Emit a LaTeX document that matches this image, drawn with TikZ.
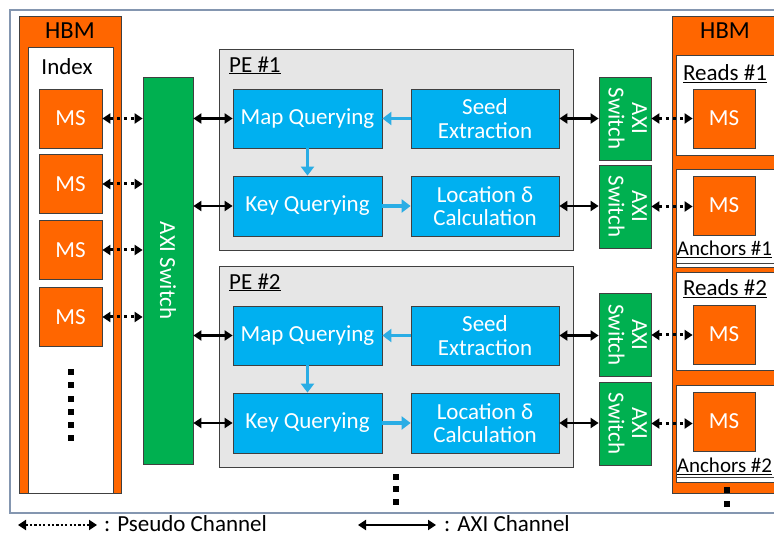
\documentclass[tikz,border=0pt]{standalone}
\usepackage{fontspec}
\setmainfont{Carlito}
\usetikzlibrary{arrows.meta}
\definecolor{hbmorange}{HTML}{FF6600}
\definecolor{axigreen}{HTML}{00B050}
\definecolor{peblue}{HTML}{00B0F0}
\definecolor{flowblue}{HTML}{2AADE5}
\definecolor{pegray}{HTML}{E6E6E6}
\definecolor{framecol}{HTML}{8496B0}
\definecolor{edgecol}{HTML}{404040}

\begin{document}
\begin{tikzpicture}[x=1pt,y=-1pt,
  font=\fontsize{23}{23.5}\selectfont,
  blk/.style={draw=edgecol, line width=0.8pt, inner sep=0pt, align=center},
  msbox/.style={blk, fill=hbmorange, text=white, minimum height=59pt},
  pebox/.style={blk, fill=pegray, minimum width=354pt, minimum height=201pt},
  stage/.style={blk, fill=peblue, text=white, minimum width=148pt, minimum height=59pt},
  axibox/.style={blk, fill=axigreen, text=white},
  memwin/.style={blk, fill=white},
  lbl/.style={inner sep=0pt, text=black},
  anchorlbl/.style={lbl, font=\fontsize{21}{22}\selectfont},
  axich/.style={line width=2.5pt, {Triangle[length=8pt,width=10pt]}-{Triangle[length=8pt,width=10pt]}},
  pseudoch/.style={line width=3pt, dash pattern=on 3.5pt off 3.5pt,
    {Triangle[length=8pt,width=10pt]}-{Triangle[length=8pt,width=10pt]}},
  flow/.style={draw=flowblue, line width=3.8pt, -{Triangle[length=9pt,width=13pt]}, color=flowblue},
  dot/.style={fill=black}
]
\clip (0,0) rectangle (774,537);

% outer frame
\draw[framecol, line width=1.4pt] (10,10) rectangle (800,513);

% ---------- left HBM (index) ----------
\node[blk, fill=hbmorange, minimum width=102pt, minimum height=477pt] (hbmL) at (70,254.5) {};
\node[memwin, minimum width=85pt, minimum height=446pt] (idx) at (70.5,270) {};
\node[lbl, font=\fontsize{24.5}{25}\selectfont] (hbmLt) at (70,31) {HBM};
\node[lbl] (idxt) at (67,67) {Index};
\foreach \i/\y in {1/118.5,2/184,3/250,4/317}
  \node[msbox, minimum width=63pt] (msL\i) at (70.5,\y) {MS};
\foreach \y in {372,385,399,412,425,438}
  \fill[dot] (67.5,\y-3) rectangle ++(6,6);

% ---------- central AXI switch ----------
\node[axibox, minimum width=50pt, minimum height=387pt] (axiL) at (168,270.5)
  {\rotatebox{-90}{AXI Switch}};

% ---------- processing elements ----------
\foreach \k/\dy in {1/0,2/217}{
  \node[pebox] (pe\k) at (396,149.5+\dy) {};
  \node[lbl, anchor=west] (pe\k t) at (229,65.5+\dy) {\underline{PE \#\k}};
  \node[stage, minimum width=149pt] (map\k) at (307.5,118.5+\dy) {Map Querying};
  \node[stage] (seed\k) at (485,118.5+\dy) {Seed\\Extraction};
  \node[stage, minimum width=149pt, minimum height=60pt] (key\k) at (307.5,206+\dy) {Key Querying};
  \node[stage, minimum height=60pt] (loc\k) at (485,206+\dy) {Location δ\\Calculation};
  \draw[flow] (seed\k.west) -- (seed\k.west -| map\k.east);
  \draw[flow] (map\k.south) -- (key\k.north);
  \draw[flow] (key\k.east) -- (key\k.east -| loc\k.west);
}
\foreach \y in {477,489,502}
  \fill[dot] (393,\y-3) rectangle ++(6,6);

% ---------- per-PE AXI switches ----------
\foreach \j/\y in {1/118.5,2/206.5,3/335,4/423.5}
  \node[axibox, minimum width=52pt, minimum height=83pt] (sw\j) at (625,\y)
    {\rotatebox{-90}{\begin{tabular}{@{}c@{}}AXI\\Switch\end{tabular}}};

% ---------- right HBM (reads / anchors) ----------
\node[blk, fill=hbmorange, minimum width=118pt, minimum height=477pt] (hbmR) at (731,254.5) {};
\node[memwin, minimum width=114pt, minimum height=100pt] (rd1) at (733,105) {};
\node[memwin, minimum width=114pt, minimum height=98pt] (an1) at (733,218) {};
\node[memwin, minimum width=114pt, minimum height=98pt] (rd2) at (733,321) {};
\node[memwin, minimum width=114pt, minimum height=97pt] (an2) at (733,433.5) {};
\draw[edgecol, line width=0.8pt] (an1.west |- 0,263) -- (an1.east |- 0,263);
\draw[edgecol, line width=0.8pt] (an2.west |- 0,477) -- (an2.east |- 0,477);
\node[lbl, font=\fontsize{24.5}{25}\selectfont] (hbmRt) at (725,31) {HBM};
\node[lbl] (rd1t) at (725,74) {\underline{Reads \#1}};
\node[anchorlbl] (an1t) at (724.5,249) {\underline{Anchors \#1}};
\node[lbl] (rd2t) at (725,289) {\underline{Reads \#2}};
\node[anchorlbl] (an2t) at (724.5,466) {\underline{Anchors \#2}};
\foreach \j/\y in {1/118.5,2/205.5,3/334.5,4/421.5}
  \node[msbox, minimum width=62pt] (msR\j) at (724,\y) {MS};
\foreach \y in {490,504}
  \fill[dot] (724,\y-3) rectangle ++(6,6);

% ---------- channels ----------
\foreach \i in {1,...,4}
  \draw[pseudoch] (msL\i.east) -- (msL\i.east -| axiL.west);
\foreach \k in {1,2}{
  \draw[axich] (axiL.east |- map\k.west) -- (map\k.west);
  \draw[axich] (axiL.east |- key\k.west) -- (key\k.west);
}
\draw[axich] (seed1.east) -- (seed1.east -| sw1.west);
\draw[axich] (loc1.east) -- (loc1.east -| sw2.west);
\draw[axich] (seed2.east) -- (seed2.east -| sw3.west);
\draw[axich] (loc2.east) -- (loc2.east -| sw4.west);
\foreach \j in {1,...,4}
  \draw[pseudoch] (sw\j.east) -- (sw\j.east -| msR\j.west);

% ---------- legend ----------
\coordinate (lgPa) at (18,525);
\coordinate (lgPb) at (97,525);
\coordinate (lgAa) at (358,525);
\coordinate (lgAb) at (436,525);
\draw[pseudoch, line width=2.2pt, dash pattern=on 2.2pt off 2.2pt] (lgPa) -- (lgPb);
\draw[axich] (lgAa) -- (lgAb);
\node[lbl, anchor=west] (lgPt) at (104,524) {: Pseudo Channel};
\node[lbl, anchor=west] (lgAt) at (444,524) {: AXI Channel};
\end{tikzpicture}
\end{document}
